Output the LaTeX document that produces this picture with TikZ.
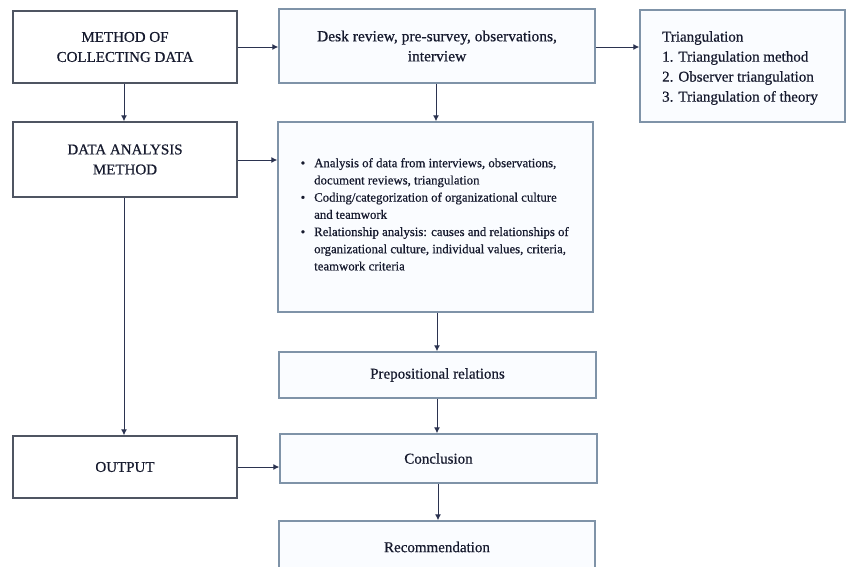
\documentclass[tikz,border=0pt]{standalone}
\usepackage{fontspec}
\setmainfont{Liberation Serif}[FakeBold=0.6]
\usepackage{enumitem}
\usetikzlibrary{arrows.meta}
\definecolor{linec}{HTML}{2B3350}
\definecolor{leftb}{HTML}{4F5562}
\definecolor{rightb}{HTML}{7F93A8}
\definecolor{boxfill}{HTML}{FAFCFF}
\definecolor{txt}{HTML}{161A2E}
\tikzset{
  leftbox/.style={draw=leftb, line width=1.4pt, fill=white, minimum width=224pt, inner sep=0pt, align=center, text=txt, font=\fontsize{15}{20}\selectfont},
  rightbox/.style={draw=rightb, line width=1.4pt, fill=boxfill, inner sep=0pt, align=center, text=txt, font=\fontsize{15}{20}\selectfont},
  arr/.style={draw=linec, line width=1pt, -{Latex[length=6pt,width=6pt]}}
}
\begin{document}
\begin{tikzpicture}[x=1pt,y=-1pt]
\useasboundingbox (0,0) rectangle (854,566);
\clip (0,0) rectangle (854,566);
\node[leftbox, minimum height=72pt] (A) at (125,47) {METHOD OF\\COLLECTING DATA};
\node[leftbox, minimum height=75pt] (B) at (125,159.5) {DATA ANALYSIS\\METHOD};
\node[leftbox, minimum height=62pt] (O) at (125,467) {OUTPUT};
\node[rightbox, minimum width=316pt, minimum height=74pt, font=\fontsize{15.5}{20}\selectfont] (D) at (437,46) {Desk review, pre-survey, observations,\\interview};
\node[rightbox, minimum width=205pt, minimum height=112pt] (T) at (742.5,66) {};
\node[anchor=north west, inner sep=0pt, align=left, text=txt, font=\fontsize{15}{20}\selectfont] (Tt) at (662,31) {Triangulation\\1. Triangulation method\\2. Observer triangulation\\3. Triangulation of theory};
\node[rightbox, minimum width=315pt, minimum height=190pt] (N) at (435.5,217) {};
\node[anchor=north west, inner sep=0pt, text=txt, font=\fontsize{12.8}{17.2}\selectfont] (Nt) at (298,158) {%
\begin{minipage}{290pt}
\begin{itemize}[leftmargin=16pt, itemsep=0pt, topsep=0pt, parsep=0pt, partopsep=0pt, labelsep=9pt]
\item Analysis of data from interviews, observations,\\ document reviews, triangulation
\item Coding/categorization of organizational culture\\ and teamwork
\item Relationship analysis: causes and relationships of\\ organizational culture, individual values, criteria,\\ teamwork criteria
\end{itemize}
\end{minipage}};
\node[rightbox, minimum width=317pt, minimum height=46pt] (P) at (437.5,375) {Prepositional relations};
\node[rightbox, minimum width=317pt, minimum height=49pt] (C) at (438.5,458.5) {Conclusion};
\node[rightbox, minimum width=316pt, minimum height=52pt] (R) at (437,547) {Recommendation};
\draw[arr] (A.east |- 0,47) -- (D.west |- 0,47);
\draw[arr] (D.east |- 0,47) -- (T.west |- 0,47);
\draw[arr] (A.south -| 124,0) -- (B.north -| 124,0);
\draw[arr] (D.south -| 436,0) -- (N.north -| 436,0);
\draw[arr] (B.east |- 0,160) -- (N.west |- 0,160);
\draw[arr] (B.south -| 124,0) -- (O.north -| 124,0);
\draw[arr] (N.south -| 437,0) -- (P.north -| 437,0);
\draw[arr] (P.south -| 437,0) -- (C.north -| 437,0);
\draw[arr] (O.east |- 0,467) -- (C.west |- 0,467);
\draw[arr] (C.south -| 438,0) -- (R.north -| 438,0);
\end{tikzpicture}
\end{document}
